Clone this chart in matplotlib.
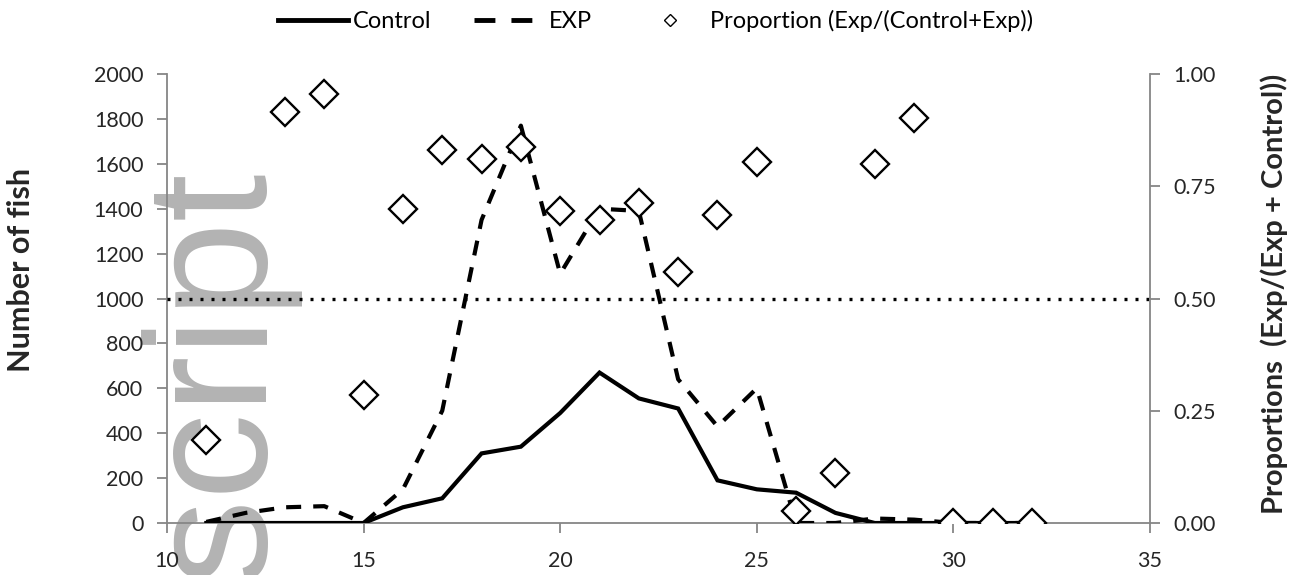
import matplotlib
matplotlib.use("Agg")
import matplotlib.pyplot as plt
from matplotlib.lines import Line2D

plt.rcParams['font.family'] = ['Lato', 'DejaVu Sans']

# Data
x_days = [11, 12, 13, 14, 15, 16, 17, 18, 19, 20, 21, 22, 23, 24, 25, 26, 27, 28, 29, 30, 31, 32]
control = [0, 0, 0, 0, 0, 70, 110, 310, 340, 490, 670, 555, 510, 190, 150, 135, 45, 0, 0, 0, 0, 0]
exp_vals = [5, 45, 70, 75, 0, 150, 500, 1350, 1770, 1110, 1400, 1390, 640, 430, 600, 0, 0, 20, 15, 0, 0, 0]
prop_x = [11, 13, 14, 15, 16, 17, 18, 19, 20, 21, 22, 23, 24, 25, 26, 27, 28, 29, 30, 31, 32]
prop_vals = [0.185, 0.916, 0.955, 0.285, 0.699, 0.830, 0.810, 0.837, 0.695, 0.675, 0.712,
             0.558, 0.686, 0.803, 0.027, 0.111, 0.800, 0.901, 0.0, 0.0, 0.0]
left_ticks = [0, 200, 400, 600, 800, 1000, 1200, 1400, 1600, 1800, 2000]
right_ticks = [0.0, 0.25, 0.5, 0.75, 1.0]
x_ticks = [10, 15, 20, 25, 30, 35]

W, H = 1298, 575
fig = plt.figure(figsize=(W / 100, H / 100), dpi=100)
ax = fig.add_axes([167 / W, 1 - 523 / H, (1150 - 167) / W, (523 - 74) / H])
ax2 = ax.twinx()

spine_c = '#868686'
txt_c = '#262626'

# Watermark (fragment of a rotated "Manuscript" stamp)
fig.text(253 / W, 1 - 158 / H, "Manuscript", rotation=90, rotation_mode='anchor',
         ha='right', va='baseline', fontsize=124, color='#b3b3b3',
         family='Liberation Sans', zorder=-1)

ax.plot(x_days, control, color='black', lw=3.0, solid_joinstyle='miter', zorder=3)
ax.plot(x_days, exp_vals, color='black', lw=3.0, dashes=(3.6, 2.9), zorder=3)

ax2.plot([10, 35], [0.5, 0.5], color='black', lw=2.4, dashes=(0.9, 2.4), zorder=2)
ax2.plot(prop_x, prop_vals, linestyle='none', marker='D', ms=14, mfc='white',
         mec='black', mew=1.7, zorder=4)

ax.set_xlim(10, 35)
ax.set_ylim(0, 2000)
ax2.set_ylim(0, 1.0)
ax.set_xticks(x_ticks)
ax.set_yticks(left_ticks)
ax2.set_yticks(right_ticks)
ax2.set_yticklabels([f"{v:.2f}" for v in right_ticks])

for a in (ax, ax2):
    a.patch.set_visible(False)
    a.spines['top'].set_visible(False)
    for s in ('left', 'right', 'bottom'):
        a.spines[s].set_color(spine_c)
        a.spines[s].set_linewidth(1.3)
    a.tick_params(axis='both', colors=spine_c, labelcolor=txt_c, labelsize=15.5,
                  length=7, width=1.3, direction='out')
ax.spines['right'].set_visible(False)
ax2.spines['left'].set_visible(False)
ax2.spines['bottom'].set_visible(False)
ax.tick_params(axis='y', pad=10)
ax2.tick_params(axis='y', pad=10)
ax.tick_params(axis='x', pad=13)

ax.set_ylabel("Number of fish", fontsize=22, fontweight='bold', color=txt_c)
ax.yaxis.set_label_coords(-0.1343, 0.563)
ax2.set_ylabel("Proportions  (Exp/(Exp + Control))", fontsize=21, fontweight='bold',
               color=txt_c)
ax2.yaxis.set_label_coords(1.112, 0.51)

handles = [
    Line2D([], [], color='black', lw=3.5),
    Line2D([], [], color='black', lw=3.5, dashes=(4.3, 3.3)),
    Line2D([], [], linestyle='none', marker='D', ms=6, mfc='white', mec='black', mew=1.0),
]
labels = ["Control", "EXP", "Proportion (Exp/(Control+Exp))"]
fig.legend(handles, labels, loc='upper center', bbox_to_anchor=(0.505, 1.02), ncol=3,
           frameon=False, fontsize=17, handlelength=2.97, handletextpad=0.2,
           columnspacing=1.8)

fig.savefig("out.png", dpi=100)
